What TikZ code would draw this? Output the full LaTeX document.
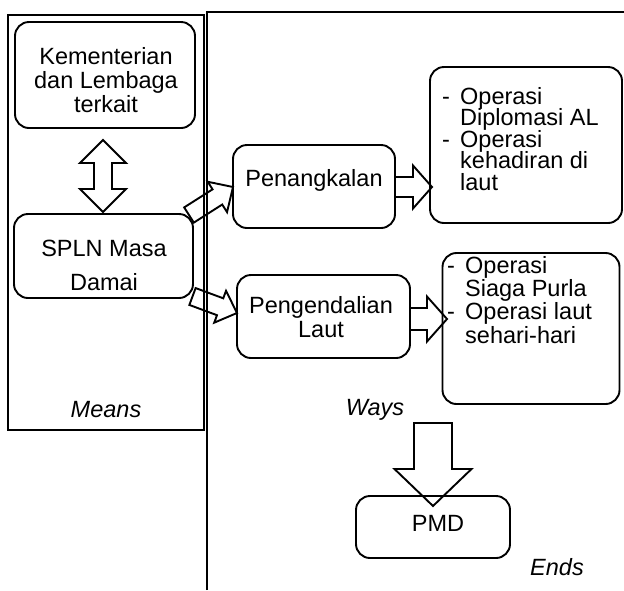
\documentclass[tikz,border=0pt]{standalone}
\usepackage{fontspec}
\setmainfont{Liberation Sans}
\usetikzlibrary{calc}
\newcommand{\blockarr}[5]{%
  \coordinate (ba-h) at ($(#2)!#5!(#1)$);
  \draw[barrow] ($(#1)!#3!90:(#2)$) -- ($(ba-h)!#3!90:(#2)$) -- ($(ba-h)!#4!90:(#2)$) -- (#2)
    -- ($(ba-h)!#4!-90:(#2)$) -- ($(ba-h)!#3!-90:(#2)$) -- ($(#1)!#3!-90:(#2)$) -- cycle;}
\begin{document}
\setlength{\lineskiplimit}{-50pt}%
\begin{tikzpicture}[x=1pt,y=-1pt,
  rbox/.style={draw, rounded corners=14pt, line width=1.9pt, inner sep=0pt},
  txt/.style={inner sep=0pt, font=\fontsize{23.5}{24}\selectfont, align=center},
  lbl/.style={inner sep=0pt, font=\fontsize{23.5}{24}\selectfont\itshape},
  barrow/.style={draw, line width=1.9pt, line join=miter},
  frame/.style={draw, line width=2pt}]
\useasboundingbox (0,0) rectangle (624,590);
% frames
\draw[frame] (8,15) rectangle (204,430);
\draw[frame] (207,590) -- (207,12) -- (624,12);
% boxes
\node[rbox, minimum width=180pt, minimum height=106pt] (kem) at (105,75) {};
\node[txt] (kemt) at (106,80) {Kementerian\\dan Lembaga\\terkait};
\node[rbox, minimum width=179pt, minimum height=84pt] (spln) at (103.5,256) {};
\node[txt, font=\fontsize{23.5}{34}\selectfont] (splnt) at (104,265) {SPLN Masa\\Damai};
\node[rbox, minimum width=162pt, minimum height=83pt] (pen) at (314,186.5) {};
\node[txt] (pent) at (314,180) {Penangkalan};
\node[rbox, minimum width=173pt, minimum height=83pt] (peng) at (323.5,316.5) {};
\node[txt] (pengt) at (321,317) {Pengendalian\\Laut};
\node[rbox, minimum width=192pt, minimum height=156pt] (op1) at (526,145) {};
\node[txt, align=left, anchor=north west, font=\fontsize{23.5}{21.5}\selectfont] (op1t) at (442,87)
  {\makebox[18pt][l]{-}Operasi\\\hspace*{18pt}Diplomasi AL\\\makebox[18pt][l]{-}Operasi\\\hspace*{18pt}kehadiran di\\\hspace*{18pt}laut};
\node[rbox, minimum width=177pt, minimum height=151pt] (op2) at (531,328.5) {};
\node[txt, align=left, anchor=north west, font=\fontsize{23.5}{23.3}\selectfont] (op2t) at (447,256)
  {\makebox[18pt][l]{-}Operasi\\\hspace*{18pt}Siaga Purla\\\makebox[18pt][l]{-}Operasi laut\\\hspace*{18pt}sehari-hari};
\node[rbox, minimum width=154pt, minimum height=62pt] (pmd) at (433,527) {};
\node[txt] (pmdt) at (438,523) {PMD};
% labels
\node[lbl] (means) at (106,410) {Means};
\node[lbl] (ways) at (375,410) {Ways};
\node[lbl] (ends) at (557,567) {Ends};
% double arrow
\draw[barrow] (103,140) -- (126,163) -- (112,163) -- (112,189) -- (126,189) -- (103,212)
  -- (80,189) -- (94,189) -- (94,163) -- (80,163) -- cycle;
% block arrows
\coordinate (a1s) at (395,187); \coordinate (a1t) at (432,187);
\coordinate (a2s) at (410,319); \coordinate (a2t) at (447,319);
\coordinate (d1s) at (189,215); \coordinate (d1t) at (233,187);
\coordinate (d2s) at (192.5,296.5); \coordinate (d2t) at (237,313);
\coordinate (dns) at (433,423); \coordinate (dnt) at (433,506);
\blockarr{a1s}{a1t}{10pt}{21.5pt}{19pt}
\blockarr{a2s}{a2t}{11pt}{22.5pt}{20pt}
\blockarr{d1s}{d1t}{9pt}{18pt}{18.5pt}
\blockarr{d2s}{d2t}{9pt}{17pt}{18pt}
\blockarr{dns}{dnt}{19pt}{38.5pt}{37pt}
\end{tikzpicture}
\end{document}
